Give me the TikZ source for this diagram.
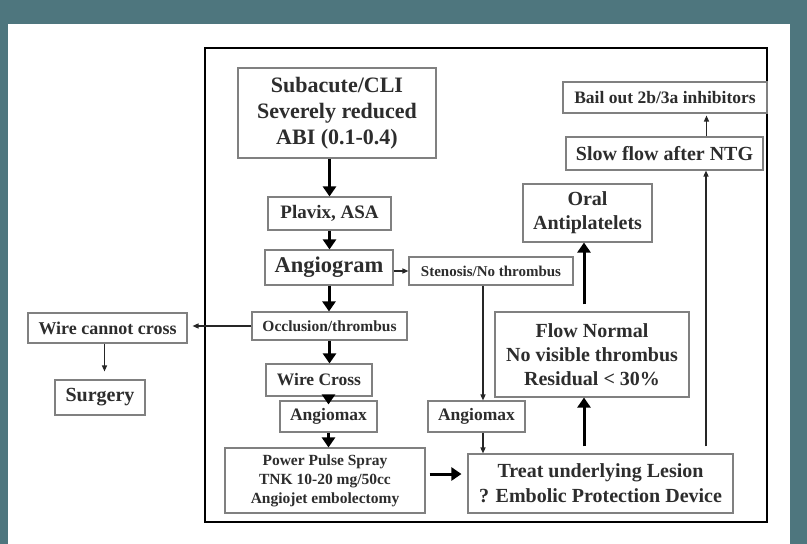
\documentclass[tikz,border=0pt]{standalone}
\usepackage{fontspec}
\setmainfont{Liberation Serif}
\usetikzlibrary{arrows.meta,calc}
\definecolor{frameteal}{RGB}{78,118,126}
\definecolor{txt}{RGB}{45,45,45}
\tikzset{
  box/.style={draw=black!50, line width=1.1pt, fill=white, inner sep=0pt, align=center, text=txt},
  fs/.style 2 args={font=\fontsize{#1}{#2}\selectfont\bfseries},
  bigarrow/.style={line width=3pt, -{Triangle[width=13pt,length=10pt]}, black},
  thinarrow/.style={line width=1.3pt, -{Triangle[width=5pt,length=6pt]}, black!85},
}
\begin{document}
\begin{tikzpicture}[x=1pt,y=-1pt]
\useasboundingbox (0,0) rectangle (807,544);
\fill[frameteal] (0,0) rectangle (807,544);
\fill[white] (8,24) rectangle (790,544);
\draw[line width=2pt, black] (205,48) rectangle (767,522);

\node[box, fs={22}{26}, minimum width=198, minimum height=90] (sub) at (337,113) {Subacute/CLI\\Severely reduced\\ABI (0.1-0.4)};
\node[box, fs={19}{22}, minimum width=123, minimum height=33] (plav) at (329.5,213.5) {Plavix, ASA};
\node[box, fs={22.5}{24}, minimum width=128, minimum height=35] (angio) at (329,267.5) {Angiogram};
\node[box, fs={15}{18}, minimum width=164, minimum height=28] (sten) at (491,271) {Stenosis/No thrombus};
\node[box, fs={15.5}{18}, minimum width=155, minimum height=28] (occ) at (329.5,326) {Occlusion/thrombus};
\node[box, fs={18}{21}, minimum width=159, minimum height=30] (wcc) at (107.5,328) {Wire cannot cross};
\node[box, fs={20}{23}, minimum width=90, minimum height=35] (surg) at (100,397.5) {Surgery};
\node[box, fs={17.5}{20}, minimum width=106, minimum height=32] (wcross) at (319,380) {Wire Cross};
\node[box, fs={17.5}{20}, minimum width=97, minimum height=31] (amone) at (328.5,416.5) {Angiomax};
\node[box, fs={15.5}{19}, minimum width=200, minimum height=65] (pps) at (325,480.5) {Power Pulse Spray\\TNK 10-20 mg/50cc\\Angiojet embolectomy};
\node[box, fs={20}{25}, minimum width=265, minimum height=59] (treat) at (600.5,483.5) {Treat underlying Lesion\\? Embolic Protection Device};
\node[box, fs={17.5}{20}, minimum width=97, minimum height=31] (amtwo) at (476.5,416.5) {Angiomax};
\node[box, fs={20}{24}, minimum width=194, minimum height=85] (flow) at (592,354.5) {Flow Normal\\No visible thrombus\\Residual {\textless} 30\%};
\node[box, fs={20}{24}, minimum width=129, minimum height=58] (oral) at (587.5,213) {Oral\\Antiplatelets};
\node[box, fs={20}{23}, minimum width=197, minimum height=33] (slow) at (664.5,153.5) {Slow flow after NTG};
\node[box, fs={17.5}{20}, minimum width=204, minimum height=31] (bail) at (665,97.5) {Bail out 2b/3a inhibitors};

% thick arrows
\draw[bigarrow] (sub.south -| plav) -- (plav.north);
\draw[bigarrow] (plav.south) -- (plav.south |- angio.north);
\draw[bigarrow] (angio.south) -- (angio.south |- occ.north);
\draw[bigarrow] (occ.south) -- (occ.south |- wcross.north);
\draw[bigarrow, shorten >=-4pt] (amone.north |- wcross.south) -- (amone.north);
\draw[bigarrow] (amone.south) -- (amone.south |- pps.north);
\draw[bigarrow, shorten <=4pt, shorten >=6pt] (pps.east |- 0,474) -- (treat.west |- 0,474);
\draw[bigarrow, shorten <=7pt] ([xshift=-8pt]flow.south |- treat.north) -- ([xshift=-8pt]flow.south);
\draw[bigarrow, shorten <=7pt] ([xshift=-8pt]flow.north) -- ([xshift=-8pt]flow.north |- oral.south);

% thin arrows
\draw[thinarrow] (angio.east |- sten.west) -- (sten.west);
\draw[thinarrow, shorten >=5pt] (occ.west) -- (occ.west -| wcc.east);
\draw[thinarrow, shorten >=8pt] ([xshift=-3pt]wcc.south) -- ([xshift=-3pt]wcc.south |- surg.north);
\draw[thinarrow] ([xshift=-8pt]sten.south) -- ([xshift=-8pt]sten.south |- amtwo.north);
\draw[thinarrow] ([xshift=6.5pt]amtwo.south) -- ([xshift=6.5pt]amtwo.south |- treat.north);
\draw[thinarrow, shorten <=7pt] ([xshift=41.5pt]slow.south |- treat.north) -- ([xshift=41.5pt]slow.south);
\draw[thinarrow, shorten >=2pt] ([xshift=42pt]slow.north) -- ([xshift=42pt]slow.north |- bail.south);
\end{tikzpicture}
\end{document}
